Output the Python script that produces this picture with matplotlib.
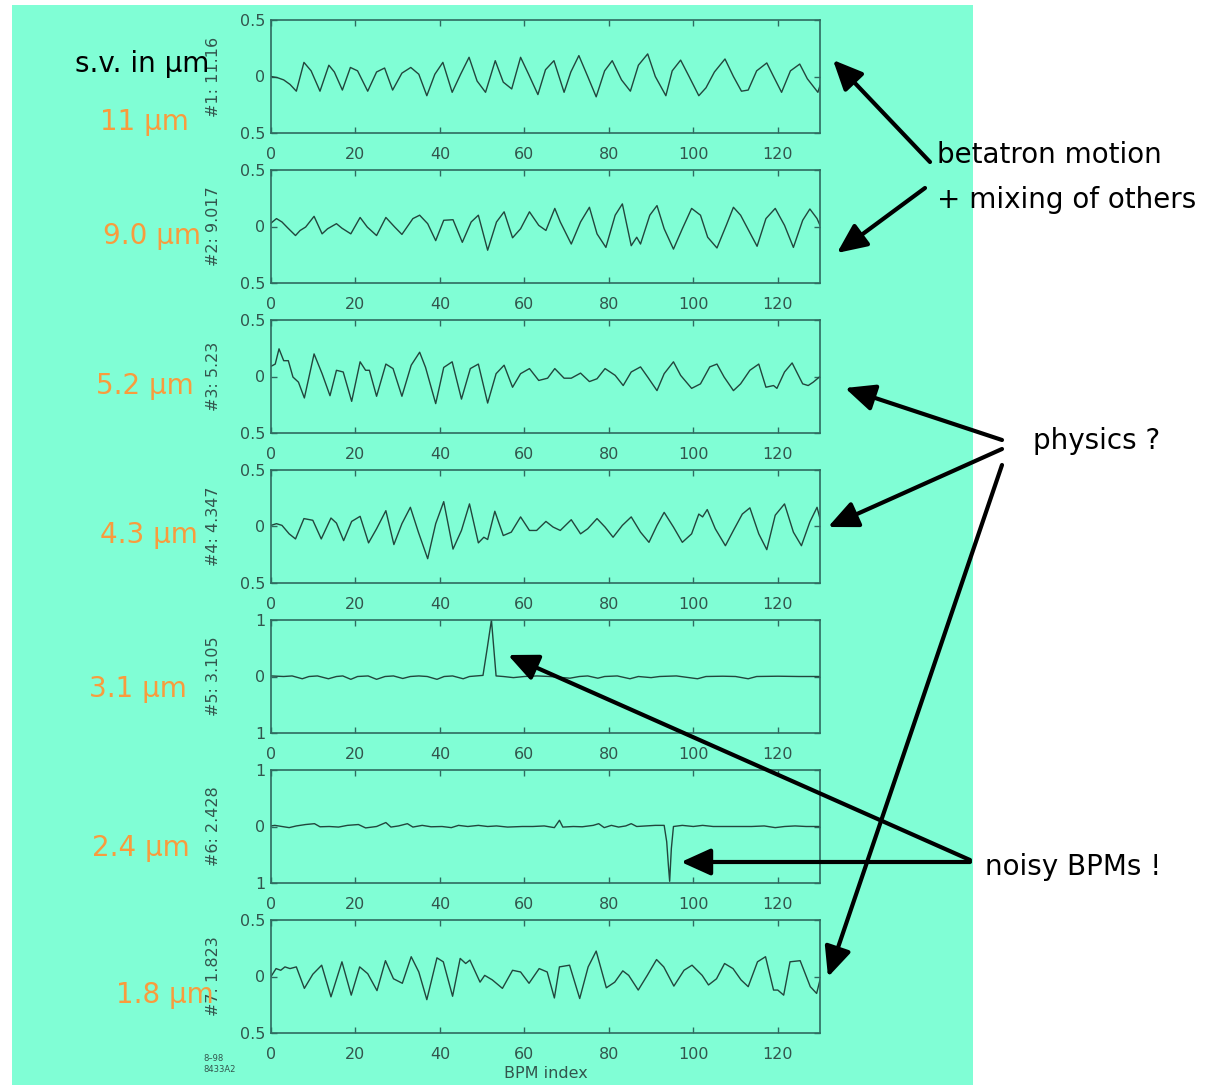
import matplotlib
matplotlib.use("Agg")
import matplotlib.pyplot as plt
from matplotlib.patches import Rectangle, FancyArrowPatch

# ---------------- data ----------------
bpm1 = [0, 1.5, 3, 4.5, 6, 7.8, 9.5, 11.6, 13.7, 15, 16.9, 18.8, 20.5, 22.9, 25,
        26.9, 28.8, 31, 33.1, 35, 36.9, 38.8, 40.7, 42.9, 44.9, 46.9, 48.8, 50.8, 53.1, 55,
        57, 59.1, 61, 63.2, 65, 67, 69.4, 71, 72.9, 75, 77, 79, 80.8, 83, 85.1,
        87, 89.2, 91, 93.5, 95, 97, 99, 101.3, 103, 105, 107.5, 109.5, 111.4, 113, 115,
        117.4, 119, 120.9, 123, 125.2, 127, 129.5, 130]
sv1 = [0, -0.01, -0.03, -0.07, -0.13, 0.125, 0.05, -0.13, 0.1, 0.04, -0.12, 0.08, 0.05, -0.13, 0.04,
       0.075, -0.12, 0.03, 0.08, 0.02, -0.17, 0.02, 0.125, -0.14, 0.02, 0.17, -0.04, -0.14, 0.14, -0.05,
       -0.11, 0.17, 0.02, -0.16, 0.06, 0.14, -0.14, 0.04, 0.185, 0.0, -0.18, 0.05, 0.14, -0.03, -0.13,
       0.1, 0.2, 0.0, -0.17, 0.05, 0.145, 0.0, -0.17, -0.1, 0.04, 0.155, 0.0, -0.13, -0.12, 0.05,
       0.12, 0.0, -0.14, 0.05, 0.11, -0.02, -0.14, -0.08]

bpm2 = [0, 1.3, 2.6, 3.9, 5.8, 6.9, 8.2, 10.2, 12.1, 13.4, 15.5, 16.8, 18.9, 21.1, 22.8,
        25, 27.2, 29.3, 31, 33.6, 35.2, 37.1, 39, 40.9, 43.1, 45.3, 47.4, 49.1, 51.3, 53.4,
        55.2, 57.2, 59.1, 61.2, 63.4, 65.1, 67.2, 68.5, 71.1, 73.3, 75.4, 77.2, 79.3, 81.5, 83.2,
        85.3, 86.6, 87.5, 89.7, 91.4, 93.1, 95.3, 97.4, 99.6, 101.7, 103.4, 105.6, 107.8, 109.5, 111.2,
        112.9, 115.1, 117.2, 119.4, 121.6, 123.7, 125.9, 127.6, 129.3, 130]
sv2 = [0.03, 0.07, 0.04, -0.01, -0.08, -0.035, -0.005, 0.09, -0.065, -0.02, 0.025, -0.015, -0.065, 0.08, -0.005,
       -0.08, 0.08, -0.005, -0.07, 0.07, 0.1, 0.025, -0.125, 0.055, 0.06, -0.14, 0.04, 0.1, -0.21, 0.04,
       0.13, -0.1, -0.02, 0.13, 0.01, -0.035, 0.16, 0.04, -0.155, 0.04, 0.17, -0.065, -0.185, 0.1, 0.2,
       -0.17, -0.095, -0.155, 0.1, 0.185, -0.02, -0.2, -0.02, 0.16, 0.1, -0.095, -0.19, 0.01, 0.17, 0.1,
       -0.02, -0.175, 0.07, 0.16, 0.01, -0.185, 0.055, 0.155, 0.07, 0.01]

bpm3 = [0, 1, 1.9, 3, 4.1, 5.2, 6.5, 7.9, 10.2, 12.1, 13.97, 15.5, 17.1, 19.1, 21.1,
        22.4, 23.3, 25, 27.2, 28.9, 31, 33.2, 35.2, 36.6, 39, 40.9, 42.9, 45.1, 47.2, 49.1,
        51.3, 53.3, 55.2, 57.2, 59.1, 61.2, 63.4, 65.5, 67.2, 69.4, 71.1, 73.3, 75.4, 77.2, 79.1,
        81.5, 83.4, 85.3, 87.5, 89.2, 91.4, 93.1, 95.3, 97, 99.6, 101.7, 103.9, 105.6, 107.3, 109.5,
        111.2, 113.4, 115.5, 117.2, 119, 119.8, 121.6, 123.4, 125.9, 127.2, 128.4, 130]
sv3 = [0.09, 0.11, 0.245, 0.14, 0.14, -0.005, -0.05, -0.19, 0.2, 0.025, -0.17, 0.055, 0.04, -0.22, 0.13,
       0.055, 0.055, -0.175, 0.11, 0.07, -0.175, 0.1, 0.215, 0.08, -0.24, 0.08, 0.13, -0.2, 0.07, 0.11,
       -0.235, 0.025, 0.1, -0.095, 0.025, 0.07, -0.035, -0.015, 0.07, -0.015, -0.015, 0.03, -0.045, -0.02, 0.07,
       0.01, -0.08, 0.04, 0.085, -0.005, -0.125, 0.025, 0.13, 0.01, -0.105, -0.065, 0.085, 0.11, -0.005, -0.125,
       -0.065, 0.055, 0.11, -0.095, -0.08, -0.105, 0.04, 0.12, -0.065, -0.08, -0.05, 0.0]

bpm4 = [0, 1.3, 2.6, 4.3, 5.8, 7.8, 9.9, 11.9, 14.2, 15.5, 17.2, 19.1, 21.1, 23.1, 25,
        27.2, 29.1, 31, 33, 34.9, 37.1, 39, 40.9, 43.1, 45.1, 47, 49.1, 50.4, 51.3, 53,
        55, 56.9, 59.1, 61.2, 62.9, 65.1, 66.8, 68.5, 71.1, 73.3, 75, 77.2, 79.1, 81, 83.2,
        85.3, 87.5, 89.5, 91.4, 93.1, 95.3, 97.4, 99.6, 101.3, 102.2, 103.3, 105.2, 107.6, 109.5, 111.6,
        113.4, 115.5, 117.4, 119.4, 121.6, 123.7, 125.6, 127.6, 129.3, 130]
sv4 = [0.01, 0.025, 0.01, -0.065, -0.11, 0.07, 0.055, -0.11, 0.075, 0.03, -0.125, 0.045, 0.09, -0.145, -0.02,
       0.14, -0.16, 0.025, 0.17, -0.05, -0.285, 0.025, 0.22, -0.2, -0.035, 0.2, -0.145, -0.095, -0.115, 0.135,
       -0.08, -0.05, 0.085, -0.035, -0.035, 0.045, -0.005, -0.035, 0.06, -0.065, -0.02, 0.07, -0.005, -0.095, 0.01,
       0.085, -0.05, -0.14, 0.01, 0.125, -0.005, -0.14, -0.065, 0.11, 0.085, 0.15, -0.02, -0.17, -0.035, 0.11,
       0.165, -0.065, -0.205, 0.1, 0.2, -0.05, -0.17, 0.04, 0.17, 0.07]

bpm5 = [0, 3, 5, 7.4, 9, 11, 13.6, 15.5, 17, 18.9, 20.5, 23, 25, 27, 29,
        31.2, 33, 35, 37, 39.3, 41, 43, 45.5, 47, 50.2, 51.2, 52.2, 53.3, 55, 57.4,
        60, 63, 66, 70.8, 73, 75, 77.4, 79, 82, 85, 87, 90, 92, 96, 101,
        103, 107, 110, 113, 115, 120, 125, 130]
sv5 = [0.01, 0, 0.01, -0.04, 0, 0.01, -0.04, 0, 0.01, -0.05, 0, 0.01, -0.05, 0, 0.01,
       -0.035, 0, 0.01, 0, -0.05, 0, 0.01, -0.04, 0, 0.02, 0.5, 1.0, 0.01, 0, -0.02,
       0, 0.01, 0, -0.03, 0, 0.01, -0.03, 0, 0.01, -0.04, 0, -0.02, 0, 0.01, -0.04,
       0, 0.005, 0, -0.04, 0, 0.005, 0, 0]

bpm6 = [0, 0.9, 2.6, 4.3, 6, 8.2, 10.3, 11.6, 13.8, 16, 18.1, 20.7, 22.4, 25, 27.2,
        28.4, 30.2, 32.3, 33.6, 35.8, 37.9, 40.5, 42.7, 44.4, 46.6, 49.1, 51.3, 53.4, 56, 59.5,
        62, 64.7, 67.1, 68.3, 69.1, 71.6, 73.7, 76.3, 77.6, 78.9, 80.6, 82.3, 84, 85.3, 86.6,
        88.8, 91, 93.1, 93.7, 94.1, 94.4, 94.8, 95.3, 97.4, 100, 102.2, 104.7, 107.8, 111.2, 113.8,
        116.8, 119.4, 121.6, 124.1, 126.7, 130]
sv6 = [0.01, 0.02, 0, -0.02, 0.01, 0.035, 0.05, -0.005, 0, -0.01, 0.02, 0.035, -0.025, 0, 0.07,
       -0.01, 0.01, 0.05, -0.01, 0.02, -0.005, 0, -0.02, 0.02, 0, 0.02, 0, 0.01, -0.01, 0,
       0, 0.01, -0.02, 0.11, -0.01, 0, -0.005, 0.02, 0.05, -0.02, 0.02, -0.01, 0.01, 0.05, 0,
       0.01, 0.02, 0.02, -0.27, -0.69, -0.97, -0.39, 0, 0.02, 0, 0.02, 0, 0, 0, 0,
       0.01, -0.02, 0, 0.01, 0, 0]

bpm7 = [0, 1.2, 2.3, 3.3, 4.5, 6, 7.9, 9.9, 12, 14.2, 16.8, 19, 21, 22.9, 25.1,
        27.1, 29, 31.1, 33.2, 35, 36.9, 39.3, 40.8, 43, 44.8, 46.1, 47.1, 49.5, 50.6, 52.4,
        54.8, 57.2, 59.1, 61.1, 63.5, 65.4, 67.1, 68.3, 70.7, 73.1, 75.1, 77, 79.4, 81.4, 83.3,
        84.7, 86.96, 89.1, 91.3, 93, 95.4, 97.8, 99.7, 102.1, 103.6, 105.5, 107.4, 109.4, 111.3, 113,
        115.2, 117.1, 119, 120, 121.4, 122.9, 125.3, 127.7, 129.2, 130]
sv7 = [0, 0.07, 0.055, 0.085, 0.07, 0.085, -0.105, 0.02, 0.1, -0.18, 0.13, -0.165, 0.085, 0.025, -0.125,
       0.14, -0.02, -0.06, 0.175, 0.04, -0.205, 0.165, 0.13, -0.175, 0.16, 0.115, 0.145, -0.05, 0.01, -0.03,
       -0.105, 0.055, 0.04, -0.06, 0.07, 0.04, -0.19, 0.085, 0.1, -0.195, 0.085, 0.225, -0.1, -0.05, 0.05,
       0.01, -0.12, 0.01, 0.15, 0.085, -0.085, 0.055, 0.1, 0.01, -0.075, -0.02, 0.115, 0.07, -0.03, -0.09,
       0.13, 0.175, -0.12, -0.12, -0.165, 0.13, 0.14, -0.09, -0.15, -0.03]

panel_x = [bpm1, bpm2, bpm3, bpm4, bpm5, bpm6, bpm7]
panel_y = [sv1, sv2, sv3, sv4, sv5, sv6, sv7]
panel_lim = [0.5, 0.5, 0.5, 0.5, 1, 1, 0.5]
ytick_text = [["0.5", "0", "0.5"]] * 4 + [["1", "0", "1"]] * 2 + [["0.5", "0", "0.5"]]
ylabels = ["#1: 11.16", "#2: 9.017", "#3: 5.23", "#4: 4.347", "#5: 3.105", "#6: 2.428", "#7: 1.823"]
sv_labels = ["11 μm", "9.0 μm", "5.2 μm", "4.3 μm", "3.1 μm", "2.4 μm", "1.8 μm"]
xticks = [0, 20, 40, 60, 80, 100, 120]

# ---------------- layout / style ----------------
W, H = 1211, 1085
GREEN = "#80fed5"
FRAME = "#2f6b60"
CURVE = "#22463d"
TXT = "#33554d"
ORANGE = "#f99b3d"

def fx(px):
    return px / W

def fy(py):
    return 1 - py / H

fig = plt.figure(figsize=(W / 100, H / 100), dpi=100)
fig.patch.set_facecolor("white")
bg = Rectangle((fx(12), 0), (973 - 12) / W, fy(5), transform=fig.transFigure,
               facecolor=GREEN, edgecolor="none", zorder=-10)
fig.patches.append(bg)

tops = [20, 170, 320, 470, 620, 770, 920]
ax_left, ax_w, ax_h = 271, 549, 113
label_x = [100, 103, 96, 100, 89, 92, 116]
label_cy = [119, 233, 383, 532, 686, 845, 992]

for i in range(7):
    top = tops[i]
    ax = fig.add_axes([fx(ax_left), fy(top + ax_h), ax_w / W, ax_h / H])
    ax.set_facecolor("none")
    ax.plot(panel_x[i], panel_y[i], color=CURVE, lw=1.0)
    lim = panel_lim[i]
    ax.set_xlim(0, 130)
    ax.set_ylim(-lim, lim)
    ax.set_xticks(xticks)
    ax.set_xticklabels([str(t) for t in xticks], family="DejaVu Sans")
    ax.set_yticks([lim, 0, -lim])
    ax.set_yticklabels(ytick_text[i], family="DejaVu Sans")
    for s in ax.spines.values():
        s.set_color(FRAME)
        s.set_linewidth(1.2)
    ax.tick_params(direction="in", top=True, right=True, length=4, width=1.0,
                   color=FRAME, labelcolor=TXT, labelsize=11.5)
    ax.tick_params(axis="x", pad=10)
    ax.tick_params(axis="y", pad=4)
    fig.text(fx(213), fy(top + ax_h / 2), ylabels[i], rotation=90, ha="center", va="center",
             fontsize=11.5, color=TXT, family="DejaVu Sans")
    if i == 6:
        ax.set_xlabel("BPM index", fontsize=11.5, color=TXT, family="DejaVu Sans", labelpad=3)

for i in range(7):
    fig.text(fx(label_x[i]), fy(label_cy[i] + 11), sv_labels[i], ha="left", va="baseline",
             fontsize=20, color=ORANGE, family="DejaVu Sans", zorder=5)

fig.text(fx(75), fy(72), "s.v. in μm", ha="left", va="baseline", fontsize=20,
         color="black", family="DejaVu Sans", zorder=6)

fig.text(fx(203), fy(1061), "8\u201398", fontsize=6, color=TXT, family="DejaVu Sans")
fig.text(fx(203), fy(1072), "8433A2", fontsize=6, color=TXT, family="DejaVu Sans")

# annotations on the right
fig.text(fx(937), fy(163), "betatron motion", ha="left", va="baseline", fontsize=20,
         color="black", family="DejaVu Sans")
fig.text(fx(937), fy(208), "+ mixing of others", ha="left", va="baseline", fontsize=20,
         color="black", family="DejaVu Sans")
fig.text(fx(1033), fy(449), "physics ?", ha="left", va="baseline", fontsize=20,
         color="black", family="DejaVu Sans")
fig.text(fx(985), fy(875), "noisy BPMs !", ha="left", va="baseline", fontsize=20,
         color="black", family="DejaVu Sans")

arrows = [((930, 162), (833, 60)),
          ((925, 188), (837, 253)),
          ((1002, 440), (845, 388)),
          ((1002, 449), (828, 527)),
          ((1002, 465), (828, 977)),
          ((970, 860), (508, 655)),
          ((970, 862), (681, 862))]
for (x0, y0), (x1, y1) in arrows:
    arr = FancyArrowPatch(posA=(fx(x0), fy(y0)), posB=(fx(x1), fy(y1)),
                          transform=fig.transFigure,
                          arrowstyle="-|>,head_length=0.95,head_width=0.43",
                          mutation_scale=19, lw=3, color="black",
                          shrinkA=0, shrinkB=0, zorder=8)
    fig.add_artist(arr)

fig.savefig("out.png", dpi=100, facecolor="white")
